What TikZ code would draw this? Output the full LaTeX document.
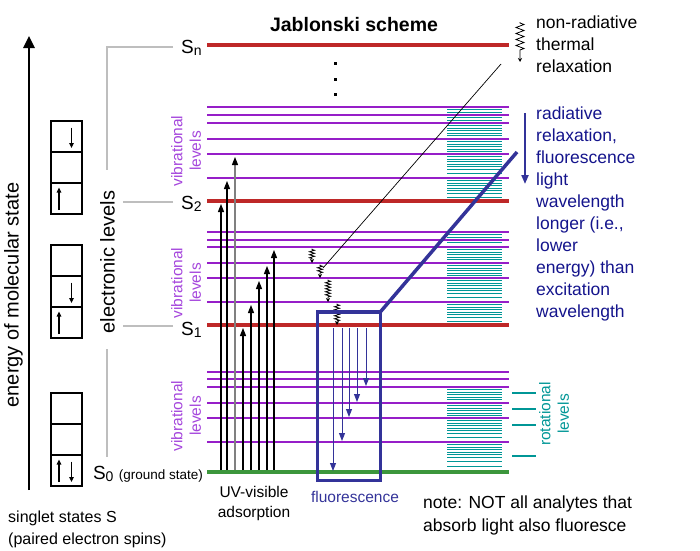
\documentclass[tikz,border=0pt]{standalone}
\usepackage{fontspec}
\setmainfont{Liberation Sans}
\usepackage{tikz}
\usetikzlibrary{arrows.meta,positioning,calc,decorations.pathmorphing}
\usepackage{xcolor}
\definecolor{jbred}{RGB}{190,40,40}
\definecolor{jbgreen}{RGB}{60,150,60}
\definecolor{jbpurple}{RGB}{150,30,200}
\definecolor{jbviolet}{RGB}{165,70,220}
\definecolor{jbteal}{RGB}{0,150,150}
\definecolor{jbbox}{RGB}{51,51,153}
\definecolor{jbnavy}{RGB}{20,20,140}
\definecolor{jbgray}{RGB}{190,190,190}
\newcommand{\lvsub}[1]{\raisebox{-2.5pt}{\fontsize{14}{14}\selectfont #1}}
\newcommand{\rotband}[2]{%
  \foreach \d in {2.5,5,7.5,10,12.5,15,19,24}{%
    \pgfmathsetmacro\ry{#1+\d}%
    \ifdim\ry pt<\dimexpr #2pt-2pt\relax
      \draw[rline] (447,\ry) -- (502,\ry);
    \fi}}
\tikzstyle{elevel} = [line width=4pt, draw=jbred]
\tikzstyle{glevel} = [line width=4pt, draw=jbgreen]
\tikzstyle{vlevel} = [line width=2.5pt, draw=jbpurple]
\tikzstyle{rline} = [line width=1pt, draw=jbteal]
\tikzstyle{absorb} = [line width=1.1pt, -{Triangle[length=8pt,width=6pt]}, shorten >=3pt]
\tikzstyle{fluor} = [line width=0.9pt, draw=jbbox, -{Triangle[length=8pt,width=6pt]}, shorten >=1pt]
\tikzstyle{nonrad} = [line width=0.8pt, decorate, decoration={zigzag, segment length=3pt, amplitude=2.5pt, pre length=1pt, post length=4pt}, -{Stealth[length=4pt,width=4pt]}]
\tikzstyle{spin} = [line width=1.3pt, -{Triangle[length=5pt,width=4.5pt]}]
\tikzstyle{cell} = [draw, line width=2pt, minimum size=31pt, inner sep=0pt, outer sep=0pt]
\tikzstyle{bracket} = [line width=1.5pt, draw=jbgray]
\tikzstyle{bigtext} = [font=\fontsize{20}{24}\selectfont, inner sep=0pt]
\tikzstyle{slabel} = [font=\fontsize{19}{22}\selectfont, inner sep=0pt]
\tikzstyle{vibtext} = [font=\fontsize{15.5}{18.5}\selectfont, text=jbviolet, rotate=90, align=center, inner sep=0pt]
\tikzstyle{rottext} = [font=\fontsize{15.5}{18.5}\selectfont, text=jbteal, rotate=90, align=center, inner sep=0pt]
\tikzstyle{caption} = [font=\fontsize{15.5}{20}\selectfont, align=center, inner sep=0pt]
\tikzstyle{legend} = [font=\fontsize{17.5}{22}\selectfont, align=left, anchor=west, inner sep=0pt]

\begin{document}
\begin{tikzpicture}[x=1pt, y=-1pt]
\useasboundingbox (0,0) rectangle (700,550);

% Energy axis
\coordinate (eBot) at (29,490);
\coordinate (eTop) at (29,36);
\draw[line width=2.5pt, -{Triangle[length=12pt,width=11pt]}] (eBot) -- (eTop);
\node (energy) [bigtext, rotate=90] at (13.5,295) {energy of molecular state};

% Electron boxes
\node (c2a) [cell] at (66.5,136.5) {};
\node (c2b) [cell, below=0pt of c2a] {};
\node (c2c) [cell, below=0pt of c2b] {};
\node (c1a) [cell] at (66.5,260.5) {};
\node (c1b) [cell, below=0pt of c1a] {};
\node (c1c) [cell, below=0pt of c1b] {};
\node (c0a) [cell] at (66.5,408.5) {};
\node (c0b) [cell, below=0pt of c0a] {};
\node (c0c) [cell, below=0pt of c0b] {};
\foreach \c in {c2a,c1b,c0c}
  \draw[spin] ([shift={(5pt,9pt)}]\c.center) -- ([shift={(5pt,-11.5pt)}]\c.center);
\foreach \c in {c2c,c1c,c0c}
  \draw[spin] ([shift={(-7.5pt,-11.5pt)}]\c.center) -- ([shift={(-7.5pt,11pt)}]\c.center);

% Electronic levels
\node (elec) [bigtext, rotate=90] at (107.5,262) {electronic levels};
\draw[bracket] (173,47) -| (107,170);
\draw[bracket] (173,202) -- (123,202);
\draw[bracket] (173,326) -- (123,326);
\draw[bracket] (107,349) -- (107,457);

% Levels
\foreach \n/\y in {Sn/45, S2/201, S1/325} {
  \coordinate (\n) at (207,\y);
  \draw[elevel] (\n) -- ++(302,0);
}
\coordinate (S0) at (207,472);
\draw[glevel] (S0) -- ++(302,0);
\foreach \n/\y in {v2f/107, v2e/115, v2d/123, v2c/139, v2b/154, v2a/178,
                   v1f/232, v1e/240, v1d/247, v1c/263, v1b/278, v1a/302,
                   v0f/372, v0e/379, v0d/387, v0c/403, v0b/418, v0a/442} {
  \coordinate (\n) at (207,\y);
  \draw[vlevel] (\n) -- ++(302,0);
}
\foreach \a/\b in {107/115, 115/123, 123/139, 139/154, 154/178, 178/201,
                   232/240, 240/247, 247/263, 263/278, 278/302, 302/325,
                   387/403, 403/418, 418/442, 442/472}
  \rotband{\a}{\b};
\foreach \y in {63,79,94}
  \fill (333.5,\y-1.5) rectangle ++(3,3);

% Level labels
\node (lSn) [slabel, anchor=base west] at (181,53) {S\lvsub{n}};
\node (lS2) [slabel, anchor=base west] at (181,209) {S\lvsub{2}};
\node (lS1) [slabel, anchor=base west] at (181,335) {S\lvsub{1}};
\node (lS0) [slabel, anchor=base east] at (203,479) {S\lvsub{0} {\fontsize{13.5}{16}\selectfont(ground state)}};
\node (vib2) [vibtext] at (186,151) {vibrational\\levels};
\node (vib1) [vibtext] at (186,283) {vibrational\\levels};
\node (vib0) [vibtext] at (186,416) {vibrational\\levels};
\node (rot) [rottext] at (554,414) {rotational\\levels};
\foreach \y in {393,409,425,456}
  \draw[rline, line width=1.2pt] (512,\y) -- (536,\y);

% Absorption
\foreach \x/\lev in {221/S2, 227/v2a, 243/S1, 251/v1a, 259/v1b, 267/v1c, 274/v1d} {
  \coordinate (ab\x) at (\x,470);
  \draw[absorb] (ab\x) -- (ab\x |- \lev);
}
\coordinate (ab235) at (235,470);
\draw[absorb, draw=black!50, -{Triangle[length=8pt,width=6pt,color=black]}] (ab235) -- (ab235 |- v2b);

% Non-radiative relaxation
\foreach \x/\from/\to in {312/v1d/v1c, 320/v1c/v1b, 328/v1b/v1a, 337/v1a/S1} {
  \coordinate (nr\x) at (\x,0);
  \draw[nonrad] ($(nr\x |- \from)+(0,1.5)$) -- (nr\x |- \to);
}
\coordinate (nrFoot) at (323,268);
\coordinate (nrHead) at (501,64);
\draw[line width=0.7pt] (nrFoot) -- (nrHead);

% Fluorescence
\foreach \x/\lev in {333/S0, 342/v0a, 349/v0b, 357/v0c, 366/v0d} {
  \coordinate (fl\x) at (\x,328);
  \draw[fluor] (fl\x) -- (fl\x |- \lev);
}
\node (fbox) [draw=jbbox, line width=3.5pt, minimum width=63pt, minimum height=168.5pt, inner sep=0pt, outer sep=0pt] at (349,396) {};
\coordinate (zoomEnd) at (517,152);
\draw[jbbox, line width=3.5pt] (fbox.north east) -- (zoomEnd);

% Legend
\coordinate (legSq) at (520,22);
\draw[nonrad, decoration={segment length=6pt, amplitude=4pt, post length=12pt}] (legSq) -- ++(0,40);
\node (nrtext) [legend] at (536,44.5) {non-radiative\\thermal\\relaxation};
\coordinate (legRad) at (525,113);
\draw[jbbox, line width=2pt, -{Triangle[length=9pt,width=7pt]}] (legRad) -- ++(0,71);
\node (radtext) [legend, text=jbnavy] at (536,214) {radiative\\relaxation,\\fluorescence\\light\\wavelength\\longer (i.e.,\\lower\\energy) than\\excitation\\wavelength};

% Captions
\node (title) [font=\fontsize{19.5}{22}\selectfont\bfseries] at (354,25) {Jablonski scheme};
\node (uvtext) [caption] at (254,503) {UV-visible\\adsorption};
\node (fltext) [caption, text=jbbox] at (355,496.5) {fluorescence};
\node (note) [legend, font=\fontsize{17.5}{23}\selectfont] at (423,515) {note: NOT all analytes that\\absorb light also fluoresce};
\node (singlet) [legend, font=\fontsize{16}{22}\selectfont] at (8,529) {singlet states S\\(paired electron spins)};
\end{tikzpicture}
\end{document}
